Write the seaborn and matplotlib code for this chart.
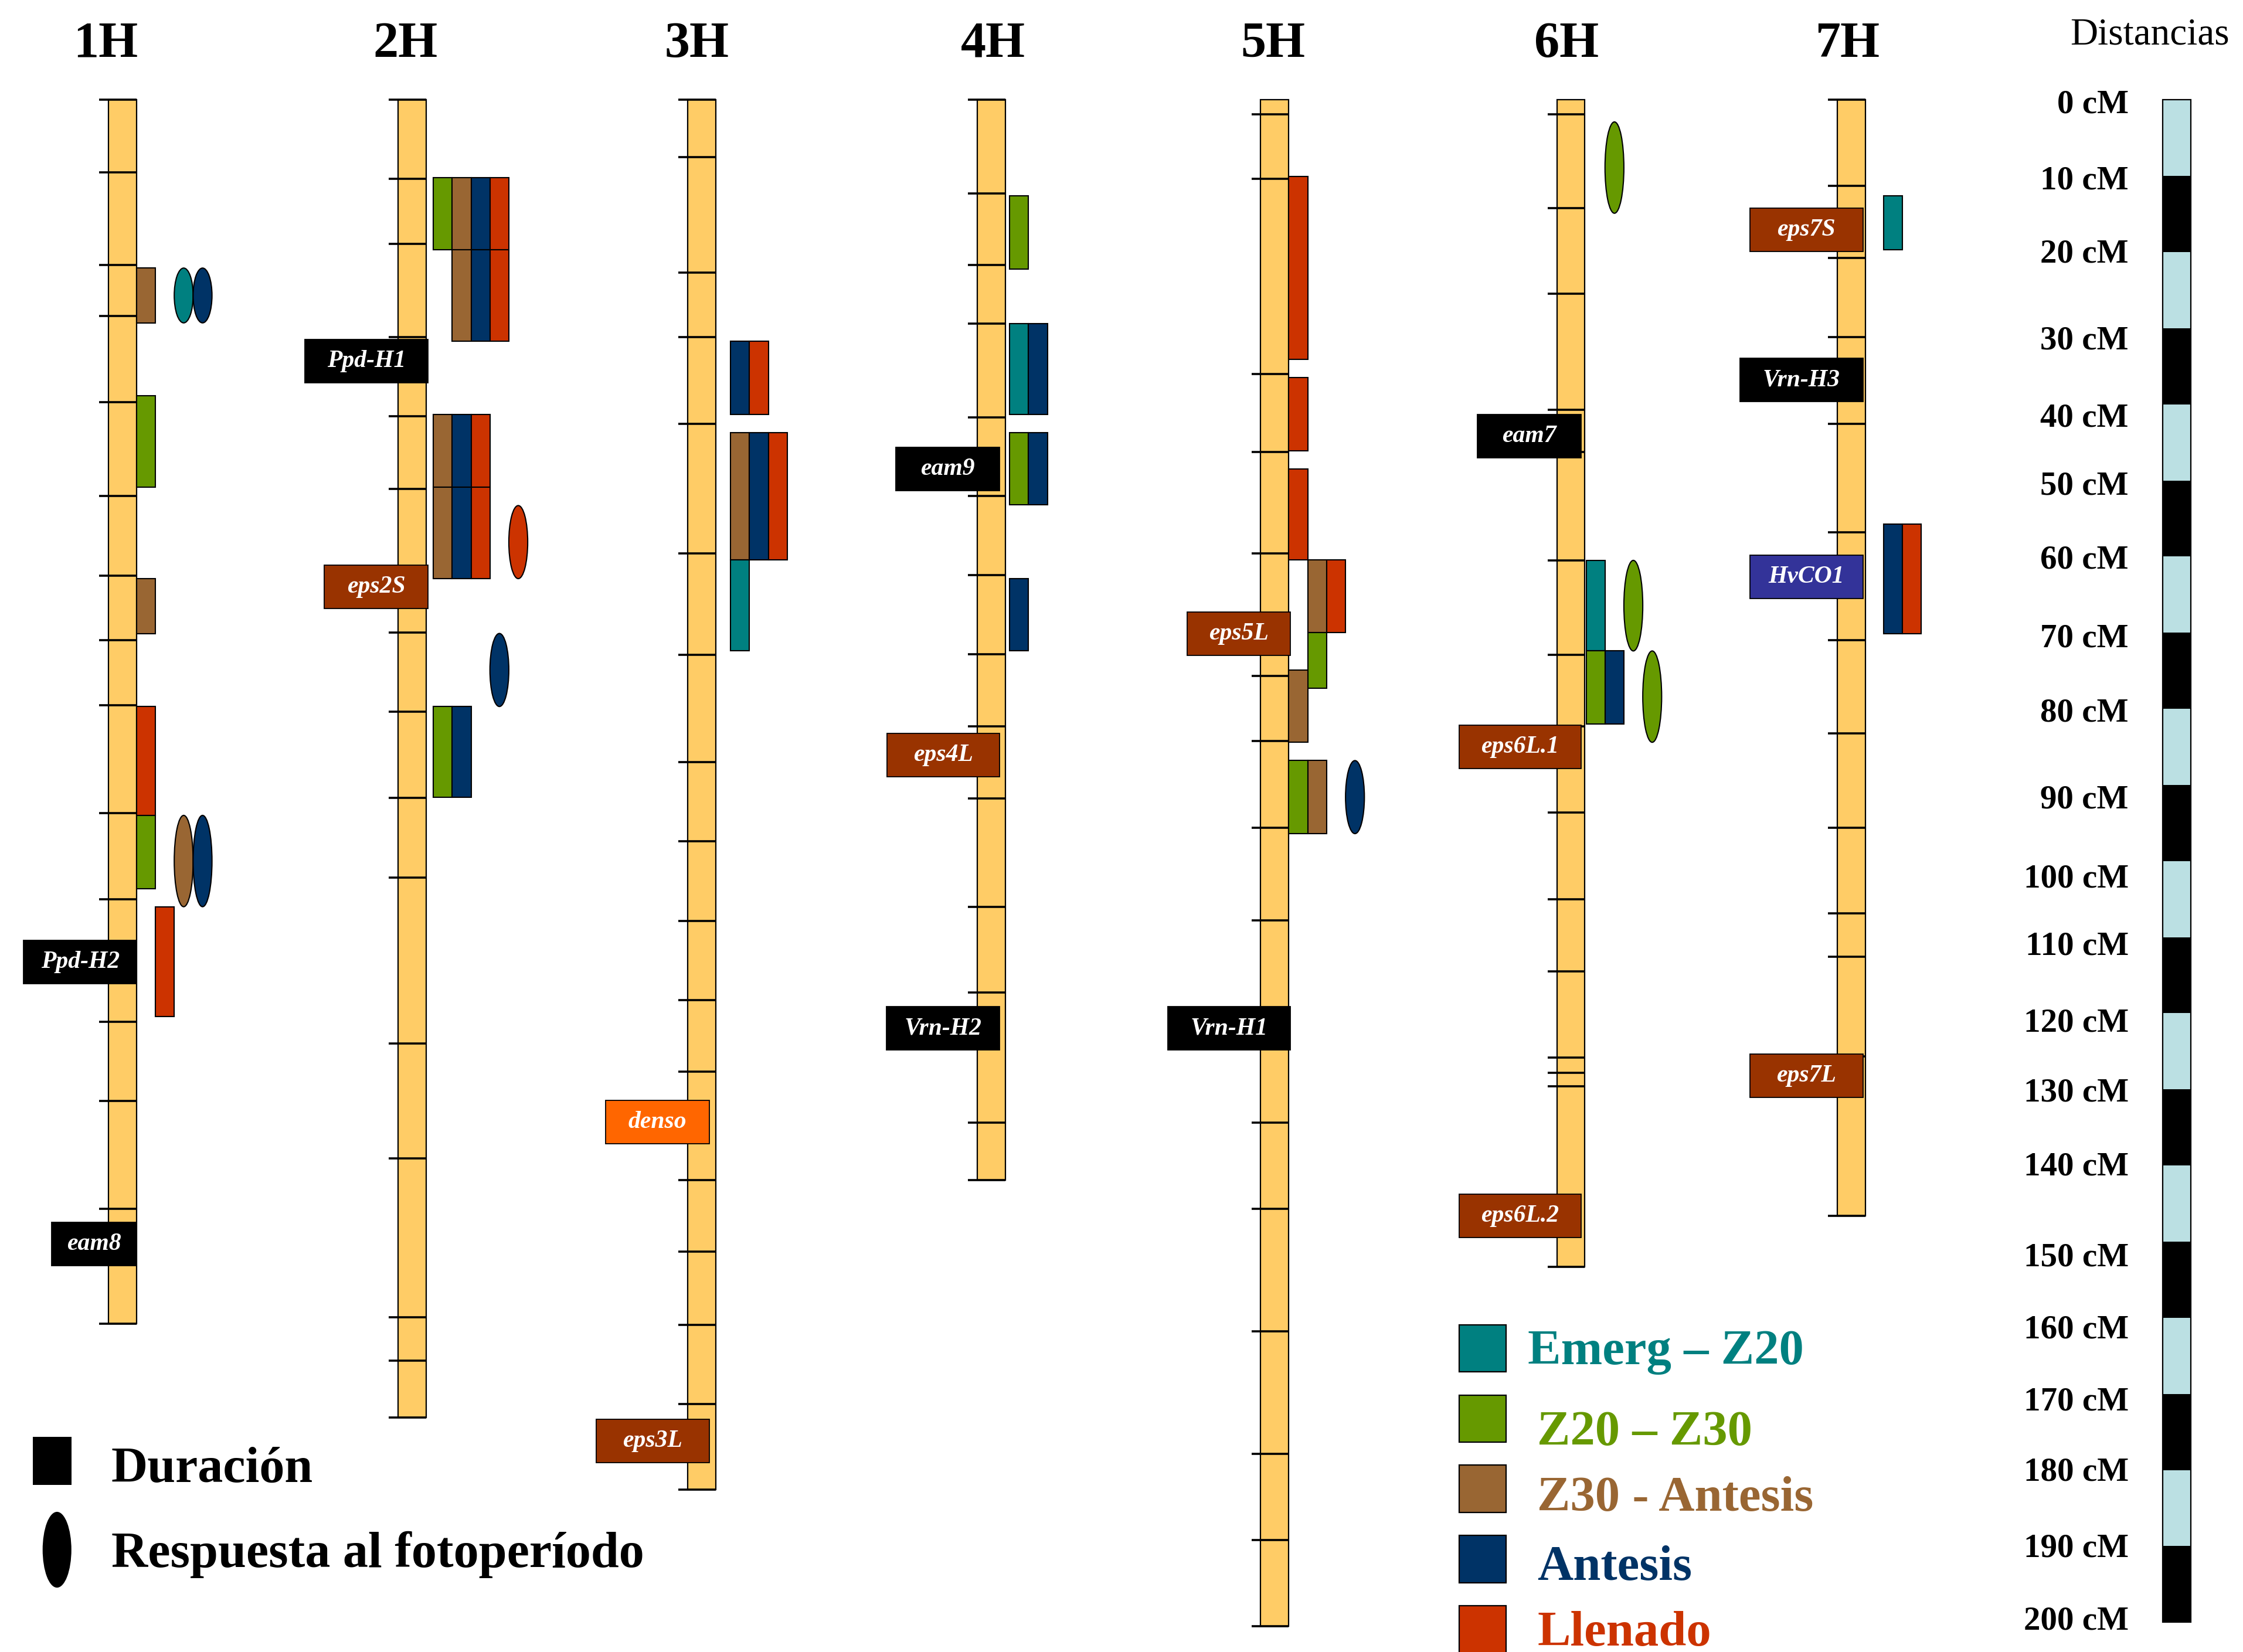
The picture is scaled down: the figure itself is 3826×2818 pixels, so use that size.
import matplotlib
matplotlib.use("Agg")
import matplotlib.pyplot as plt
from matplotlib.patches import Rectangle, Ellipse
import pandas as pd
import seaborn as sns

sns.set_theme(style="white")
plt.rcParams['font.family'] = ['Liberation Serif', 'DejaVu Serif']

# ---------------------------------------------------------------- data (cM)
chromosomes = ["1H", "2H", "3H", "4H", "5H", "6H", "7H"]
chrom_length = [160.8, 173.1, 182.6, 141.9, 200.5, 153.3, 146.6]

ticks_1H = [0, 9.5, 21.7, 28.4, 39.7, 52.0, 62.5, 71.0, 79.5, 93.7, 105.0, 121.1, 131.5, 145.7, 160.8]
ticks_2H = [0, 10.4, 18.9, 31.2, 41.6, 51.1, 70.0, 80.4, 91.7, 102.2, 124.0, 139.1, 159.9, 165.6, 173.1]
ticks_3H = [0, 7.5, 22.7, 31.2, 42.6, 59.6, 72.9, 87.0, 97.4, 107.9, 118.3, 127.7, 141.9, 151.3,
            160.9, 171.3, 182.6]
ticks_4H = [0, 12.3, 21.7, 29.4, 41.7, 52.0, 62.4, 72.8, 82.3, 91.8, 106.0, 117.3, 134.4, 141.9]
ticks_5H = [1.9, 10.4, 36.0, 46.3, 59.6, 75.7, 84.2, 95.6, 107.8, 134.4, 145.7, 161.8, 177.9, 189.2, 200.5]
ticks_6H = [1.9, 14.2, 25.5, 40.7, 46.3, 60.5, 72.9, 82.3, 93.6, 105.0, 114.5, 125.8, 127.8, 129.6, 153.3]
ticks_7H = [0, 11.3, 20.8, 31.2, 42.6, 56.8, 71.0, 83.2, 95.6, 106.9, 112.6, 125.7, 146.6]
chrom_ticks = [ticks_1H, ticks_2H, ticks_3H, ticks_4H, ticks_5H, ticks_6H, ticks_7H]

stage_keys = ["emerg", "z20", "z30", "antesis", "llenado"]
stage_names = ["Emerg \u2013 Z20", "Z20 \u2013 Z30", "Z30 - Antesis", "Antesis", "Llenado"]
stage_colors = ["#008080", "#669900", "#996633", "#003366", "#CC3300"]

# duration QTL: chromosome, stage, column, start cM, end cM
duration_qtl = [
    ("1H", "z30", 0, 22.1, 29.3), ("1H", "z20", 0, 38.9, 50.9), ("1H", "z30", 0, 62.9, 70.1),
    ("1H", "llenado", 0, 79.7, 94.0), ("1H", "z20", 0, 94.0, 103.6), ("1H", "llenado", 1, 106.0, 120.4),
    ("2H", "z20", 0, 10.2, 19.7),
    ("2H", "z30", 1, 10.2, 19.7), ("2H", "z30", 1, 19.7, 31.7),
    ("2H", "antesis", 2, 10.2, 19.7), ("2H", "antesis", 2, 19.7, 31.7),
    ("2H", "llenado", 3, 10.2, 19.7), ("2H", "llenado", 3, 19.7, 31.7),
    ("2H", "z30", 0, 41.3, 50.9), ("2H", "z30", 0, 50.9, 62.9),
    ("2H", "antesis", 1, 41.3, 50.9), ("2H", "antesis", 1, 50.9, 62.9),
    ("2H", "llenado", 2, 41.3, 50.9), ("2H", "llenado", 2, 50.9, 62.9),
    ("2H", "z20", 0, 79.7, 91.6), ("2H", "antesis", 1, 79.7, 91.6),
    ("3H", "antesis", 0, 31.7, 41.3), ("3H", "llenado", 1, 31.7, 41.3),
    ("3H", "z30", 0, 43.7, 60.4), ("3H", "antesis", 1, 43.7, 60.4), ("3H", "llenado", 2, 43.7, 60.4),
    ("3H", "emerg", 0, 60.4, 72.4),
    ("4H", "z20", 0, 12.6, 22.2),
    ("4H", "emerg", 0, 29.4, 41.3), ("4H", "antesis", 1, 29.4, 41.3),
    ("4H", "z20", 0, 43.7, 53.2), ("4H", "antesis", 1, 43.7, 53.2),
    ("4H", "antesis", 0, 62.9, 72.4),
    ("5H", "llenado", 0, 10.1, 34.1), ("5H", "llenado", 0, 36.5, 46.1), ("5H", "llenado", 0, 48.5, 60.4),
    ("5H", "z30", 1, 60.4, 70.0), ("5H", "llenado", 2, 60.4, 70.0),
    ("5H", "z20", 1, 70.0, 77.3), ("5H", "z30", 0, 74.9, 84.4),
    ("5H", "z20", 0, 86.8, 96.4), ("5H", "z30", 1, 86.8, 96.4),
    ("6H", "emerg", 0, 60.5, 72.4),
    ("6H", "z20", 0, 72.4, 82.0), ("6H", "antesis", 1, 72.4, 82.0),
    ("7H", "emerg", 0, 12.6, 19.7),
    ("7H", "antesis", 0, 55.7, 70.1), ("7H", "llenado", 1, 55.7, 70.1),
]

# photoperiod-response QTL: chromosome, stage, column, start cM, end cM
photoperiod_qtl = [
    ("1H", "emerg", 2, 22.1, 29.3), ("1H", "antesis", 3, 22.1, 29.3),
    ("1H", "z30", 2, 94.0, 106.0), ("1H", "antesis", 3, 94.0, 106.0),
    ("2H", "llenado", 4, 53.3, 62.9), ("2H", "antesis", 3, 70.1, 79.7),
    ("5H", "antesis", 3, 86.8, 96.4),
    ("6H", "z20", 1, 2.9, 14.9), ("6H", "z20", 2, 60.5, 72.4), ("6H", "z20", 3, 72.4, 84.4),
]

# known genes: chromosome, name, position cM, class
genes = [
    ("1H", "Ppd-H2", 113.3, "gen"), ("1H", "eam8", 150.3, "gen"),
    ("2H", "Ppd-H1", 34.3, "gen"), ("2H", "eps2S", 64.0, "eps"),
    ("3H", "denso", 134.3, "denso"), ("3H", "eps3L", 176.2, "eps"),
    ("4H", "eam9", 48.5, "gen"), ("4H", "eps4L", 86.1, "eps"), ("4H", "Vrn-H2", 122.0, "gen"),
    ("5H", "eps5L", 70.1, "eps"), ("5H", "Vrn-H1", 122.0, "gen"),
    ("6H", "eam7", 44.2, "gen"), ("6H", "eps6L.1", 85.0, "eps"), ("6H", "eps6L.2", 146.6, "eps"),
    ("7H", "eps7S", 17.1, "eps"), ("7H", "Vrn-H3", 36.8, "gen"), ("7H", "HvCO1", 62.7, "co"),
    ("7H", "eps7L", 128.2, "eps"),
]
gene_colors = {"gen": "#000000", "eps": "#993300", "denso": "#FF6600", "co": "#333399"}

scale_values = list(range(0, 201, 10))

# ---------------------------------------------------------------- layout
W, H = 1568.0, 1155.0                       # drawing units across / down the page
Y0_PX, PX_PER_CM = 69.8, 5.322              # where 0 cM sits and cM scale
chrom_x = [75.8, 278.2, 480.6, 683.2, 881.3, 1088.3, 1284.4]
chrom_w = 19.6
tick_ext = 6.5
col_x0 = [95.4, 302.9, 510.7, 705.8, 901.0, 1108.8, 1316.8]
col_w = 13.2
title_x = [74, 283.5, 487, 694, 890, 1095, 1291.5]
label_right = [95.6, 299.2, 495.7, 698.9, 902.2, 1105.5, 1302.3]
label_width = {"Ppd-H2": 79.2, "eam8": 59.6, "Ppd-H1": 86.2, "eps2S": 72.6, "denso": 72.5,
               "eps3L": 79.1, "eam9": 72.7, "eps4L": 79.0, "Vrn-H2": 79.2, "eps5L": 72.4,
               "Vrn-H1": 85.8, "eam7": 72.7, "eps6L.1": 85.6, "eps6L.2": 85.6, "eps7S": 79.1,
               "Vrn-H3": 86.0, "HvCO1": 79.1, "eps7L": 79.1}
label_h = 5.7
scale_x0, scale_w = 1511.9, 19.6
scale_label_x = 1488
scale_label_y = [0.6, 10.65, 20.3, 31.7, 41.8, 50.8, 60.5, 70.8, 80.6, 92.0, 102.4, 111.2,
                 121.3, 130.5, 140.2, 152.1, 161.6, 171.1, 180.3, 190.3, 199.9]

palette = dict(zip(stage_keys, sns.color_palette(stage_colors)))
cidx = {c: i for i, c in enumerate(chromosomes)}

dur_df = pd.DataFrame(duration_qtl, columns=["chrom", "stage", "col", "start", "end"])
pho_df = pd.DataFrame(photoperiod_qtl, columns=["chrom", "stage", "col", "start", "end"])
gene_df = pd.DataFrame(genes, columns=["chrom", "name", "pos", "kind"])

fig = plt.figure(figsize=(38.26, 28.18), dpi=100)
fig.patch.set_facecolor("white")

# main axes: x in page units, y in cM
ax = fig.add_axes([0, 0, 1, 1])
ax.set_xlim(0, W)
ax.set_ylim((H - Y0_PX) / PX_PER_CM, -Y0_PX / PX_PER_CM)
ax.set_axis_off()

# overlay axes for titles and legends in page units
ov = fig.add_axes([0, 0, 1, 1])
ov.set_xlim(0, W)
ov.set_ylim(H, 0)
ov.set_axis_off()
ov.patch.set_alpha(0)

# chromosomes with marker ticks
for i, name in enumerate(chromosomes):
    x = chrom_x[i]
    ax.add_patch(Rectangle((x, 0), chrom_w, chrom_length[i], facecolor="#FFCC66",
                           edgecolor="black", lw=1.6, zorder=2))
    for t in chrom_ticks[i]:
        ax.plot([x - tick_ext, x + chrom_w], [t, t], color="black", lw=2.6,
                solid_capstyle="butt", zorder=3)
    ov.text(title_x[i], 39.6, name, ha="center", va="baseline", fontsize=62,
            fontweight="bold", color="black")

# duration QTL bars
for r in dur_df.itertuples():
    i = cidx[r.chrom]
    ax.add_patch(Rectangle((col_x0[i] + r.col * col_w, r.start), col_w, r.end - r.start,
                           facecolor=palette[r.stage], edgecolor="black", lw=1.5, zorder=4))

# photoperiod-response QTL ellipses
for r in pho_df.itertuples():
    i = cidx[r.chrom]
    ax.add_patch(Ellipse((col_x0[i] + (r.col + 0.5) * col_w, (r.start + r.end) / 2),
                         col_w, r.end - r.start, facecolor=palette[r.stage],
                         edgecolor="black", lw=1.5, zorder=4))

# gene labels
for r in gene_df.itertuples():
    i = cidx[r.chrom]
    w = label_width[r.name]
    x1 = label_right[i]
    ax.add_patch(Rectangle((x1 - w, r.pos - label_h / 2), w, label_h,
                           facecolor=gene_colors[r.kind], edgecolor="black", lw=1.3, zorder=6))
    ax.text(x1 - w / 2, r.pos, r.name, ha="center", va="center", fontsize=30,
            fontweight="bold", fontstyle="italic", color="white", zorder=7)

# distance scale bar
for k, v in enumerate(scale_values[:-1]):
    ax.add_patch(Rectangle((scale_x0, v), scale_w, 10,
                           facecolor="#BBE0E3" if k % 2 == 0 else "black",
                           edgecolor="none", zorder=2))
ax.add_patch(Rectangle((scale_x0, 0), scale_w, scale_values[-1], facecolor="none",
                       edgecolor="black", lw=1.6, zorder=3))
for v, yl in zip(scale_values, scale_label_y):
    ax.text(scale_label_x, yl, f"{v} cM", ha="right", va="center", fontsize=41,
            fontweight="bold", color="black")
ov.text(1447, 31.1, "Distancias", ha="left", va="baseline", fontsize=47, color="black")

# symbol legend
ov.add_patch(Rectangle((22.9, 1004.5), 27.0, 33.5, facecolor="black", edgecolor="none"))
ov.add_patch(Ellipse((39.85, 1083.5), 20.1, 53.0, facecolor="black", edgecolor="none"))
ov.text(77.8, 1036.2, "Duración", ha="left", va="baseline", fontsize=62,
        fontweight="bold", color="black")
ov.text(77.8, 1095.4, "Respuesta al fotoperíodo", ha="left", va="baseline", fontsize=62,
        fontweight="bold", color="black")

# stage legend
leg_box_top = [926.2, 975.3, 1024.4, 1073.5, 1122.8]
leg_text_x = [1067.9, 1074.6, 1074.6, 1074.6, 1074.6]
leg_text_base = [953.6, 1010.2, 1056.2, 1104.7, 1150.5]
for k, key in enumerate(stage_keys):
    ov.add_patch(Rectangle((1019.9, leg_box_top[k]), 33.1, 33.0, facecolor=palette[key],
                           edgecolor="black", lw=1.6))
    ov.text(leg_text_x[k], leg_text_base[k], stage_names[k], ha="left", va="baseline",
            fontsize=61, fontweight="bold", color=stage_colors[k])

fig.savefig("out.png", dpi=100, facecolor="white")
